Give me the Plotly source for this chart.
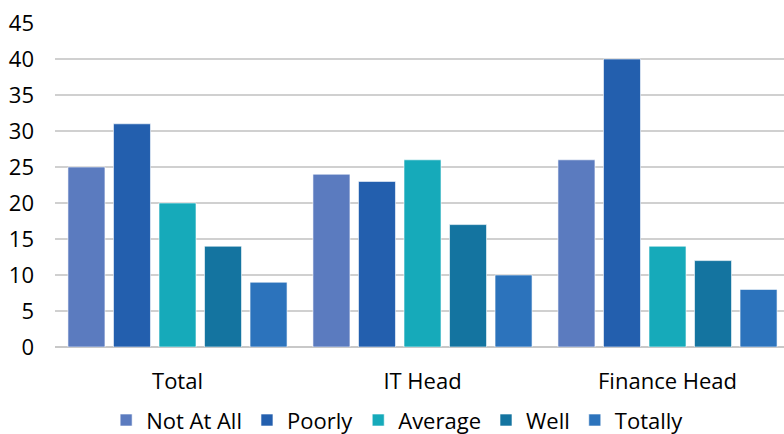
import plotly.graph_objects as go

categories = ["Total", "IT Head", "Finance Head"]
series_names = ["Not At All", "Poorly", "Average", "Well", "Totally"]
not_at_all = [25, 24, 26]
poorly = [31, 23, 40]
average = [20, 26, 14]
well = [14, 17, 12]
totally = [9, 10, 8]
y_ticks = [0, 5, 10, 15, 20, 25, 30, 35, 40, 45]

colors = ["#5B7BBF", "#235FAE", "#16AABA", "#1474A0", "#2C73BC"]
values = [not_at_all, poorly, average, well, totally]

x_pos = list(range(len(categories)))

fig = go.Figure()
for name, vals, col in zip(series_names, values, colors):
    fig.add_trace(go.Bar(
        x=x_pos, y=vals, name=name,
        marker=dict(color=col, line=dict(color="rgba(255,255,255,0.6)", width=1)),
    ))

font_family = "Open Sans, Noto Sans, sans-serif"
fig.update_layout(
    width=784, height=434,
    margin=dict(l=55, r=0, t=23, b=87, autoexpand=False),
    plot_bgcolor="white", paper_bgcolor="white",
    barmode="group", bargap=0.071, bargroupgap=0.187,
    font=dict(family=font_family, size=22, color="#000000"),
    xaxis=dict(
        tickmode="array", tickvals=x_pos, ticktext=categories,
        range=[-0.5, 2.4755], showgrid=False, ticks="", zeroline=False,
        showline=False, tickfont=dict(size=22), ticklabelstandoff=19,
    ),
    yaxis=dict(
        tickmode="array", tickvals=y_ticks, range=[0, 45],
        showgrid=True, gridcolor="#D0D0D0", gridwidth=1.5,
        zeroline=True, zerolinecolor="#C8C8C8", zerolinewidth=2,
        ticks="", tickfont=dict(size=22), ticklabelstandoff=20,
        showline=False,
    ),
    legend=dict(
        orientation="h", x=0.47, xanchor="center",
        y=-0.226, yanchor="middle",
        font=dict(size=22), itemwidth=30, traceorder="normal",
    ),
    showlegend=True,
)

fig.write_html("out.html")
